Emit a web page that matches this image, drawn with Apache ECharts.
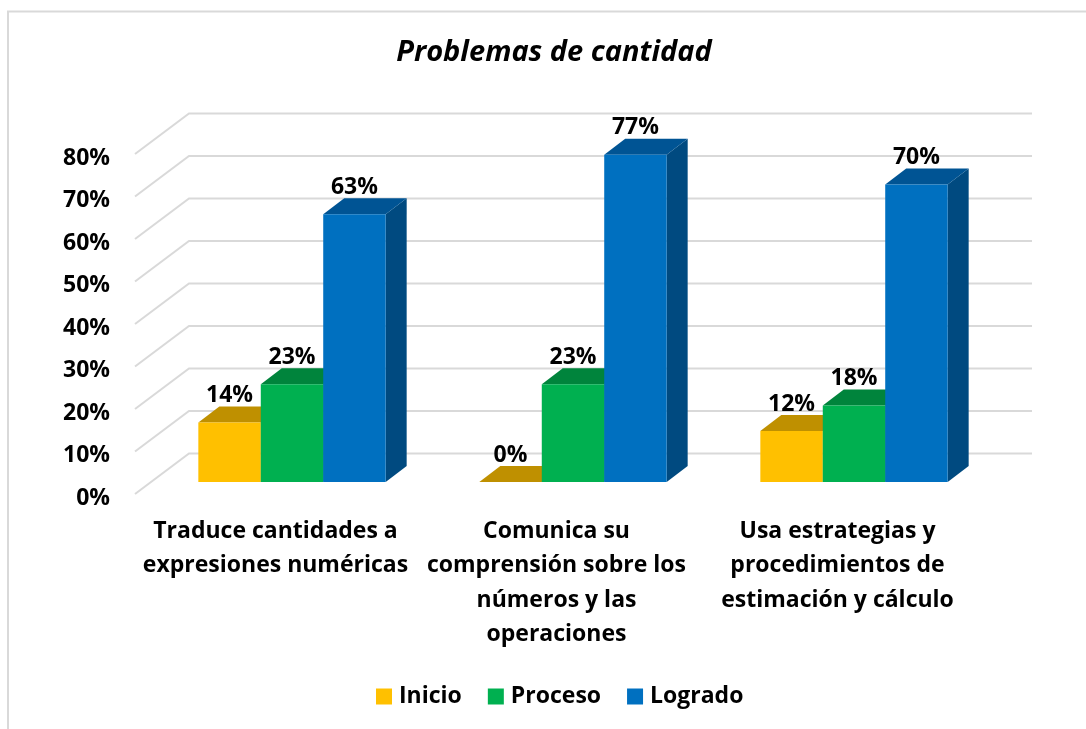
<!DOCTYPE html>
<html><head><meta charset="utf-8">
<style>html,body{margin:0;padding:0;background:#fff}#c{width:1086px;height:729px}</style>
<script src="https://cdn.jsdelivr.net/npm/echarts@6/dist/echarts.min.js"></script>
</head><body><div id="c"></div>
<script>
const categories = ["Traduce cantidades a\nexpresiones numéricas","Comunica su\ncomprensión sobre los\nnúmeros y las\noperaciones","Usa estrategias y\nprocedimientos de\nestimación y cálculo"];
const inicio = [14, 0, 12];
const proceso = [23, 23, 18];
const logrado = [63, 77, 70];
const ticks = [0,10,20,30,40,50,60,70,80];
const FONT = '"Open Sans"';
const WALL = [54,-40.5], PLANE = [16.5,-12], DEPTH = [21,-16];

function barSeries(name, values, pos, front, dark, topc){
  return {
    type:'custom', name, coordinateSystem:'cartesian2d', z:3,
    itemStyle:{color:front},
    data: values.map((v,i)=>[i,v]),
    renderItem(params, api){
      const base = api.coord([api.value(0),0]);
      const top = api.coord([api.value(0),api.value(1)]);
      const band = api.size([1,0])[0];
      const w = band/4.5;
      const x0 = base[0]+PLANE[0]+(pos-1.5)*w, x1 = x0+w;
      const y0 = base[1]+PLANE[1], y1 = top[1]+PLANE[1];
      const dx = DEPTH[0], dy = DEPTH[1];
      return {type:'group',children:[
        {type:'polygon',shape:{points:[[x1,y0],[x1+dx,y0+dy],[x1+dx,y1+dy],[x1,y1]]},style:{fill:dark}},
        {type:'polygon',shape:{points:[[x0,y1],[x1,y1],[x1+dx,y1+dy],[x0+dx,y1+dy]]},style:{fill:topc}},
        {type:'rect',shape:{x:x0,y:y1,width:w,height:y0-y1},style:{fill:front}},
        {type:'text',z2:50,style:{text:api.value(1)+'%',x:(x0+x1)/2,y:y1-27,align:'center',verticalAlign:'middle',
          font:'bold 23px '+FONT,fill:'#000'}}
      ]};
    }
  };
}

const option = {
  animation:false,
  backgroundColor:'#fff',
  title:{text:'Problemas de cantidad',left:549,top:33,textAlign:'center',
    textStyle:{fontFamily:FONT,fontStyle:'italic',fontWeight:'bold',fontSize:29,color:'#000'}},
  graphic:[{type:'polyline',silent:true,z:-1,shape:{points:[[8,740],[8,11.5],[1100,11.5]]},style:{stroke:'#d9d9d9',lineWidth:2,fill:null}}],
  legend:{left:371,top:680,itemWidth:16,itemHeight:16,itemGap:26,icon:'rect',
    data:['Inicio','Proceso','Logrado'],
    textStyle:{fontFamily:FONT,fontWeight:'bold',fontSize:23,color:'#000',padding:[0,0,0,2]}},
  grid:{left:135,top:154,width:843,height:340},
  xAxis:{type:'category',data:categories,axisLine:{show:false},axisTick:{show:false},
    axisLabel:{interval:0,margin:20,lineHeight:34.5,fontFamily:FONT,fontWeight:'bold',fontSize:23,color:'#000'}},
  yAxis:{type:'value',min:0,max:80,interval:10,splitLine:{show:false},axisLine:{show:false},axisTick:{show:false},
    axisLabel:{formatter:'{a|{value}%}',margin:25,
      rich:{a:{padding:[8,0,0,0],fontFamily:FONT,fontWeight:'bold',fontSize:23,color:'#000'}}}},
  series:[
    {type:'custom',name:'rejilla',coordinateSystem:'cartesian2d',z:1,silent:true,
     data:ticks.map(t=>[0,t]),
     renderItem(params,api){
       const p = api.coord([0,api.value(1)]);
       const band = api.size([1,0])[0];
       const x0 = p[0]-band/2, y0 = p[1];
       return {type:'polyline',shape:{points:[[x0,y0],[x0+WALL[0],y0+WALL[1]],[x0+WALL[0]+band*3,y0+WALL[1]]]},
         style:{stroke:'#d9d9d9',lineWidth:2,fill:null}};
     }},
    barSeries('Inicio',inicio,0,'#FFC000','#BF9000','#BF9000'),
    barSeries('Proceso',proceso,1,'#00B050','#00843C','#00843C'),
    barSeries('Logrado',logrado,2,'#0070C0','#004A80','#005494')
  ]
};
echarts.init(document.getElementById('c')).setOption(option);
</script></body></html>
